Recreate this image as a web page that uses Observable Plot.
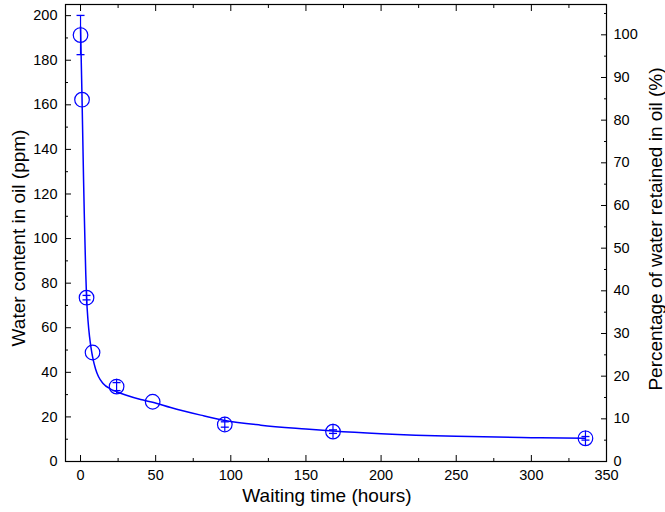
<!DOCTYPE html>
<html><head><meta charset="utf-8">
<script src="https://cdn.jsdelivr.net/npm/d3@7"></script>
<script src="https://cdn.jsdelivr.net/npm/@observablehq/plot@0.6"></script>
<style>
body{margin:0;background:#fff}
svg{font-family:"Liberation Sans",Arial,sans-serif}
</style>
</head><body><div id="chart"></div>
<script>
// measured points
const timeH      = [0, 1, 4, 8, 24, 48, 96, 168, 336];
const waterPpm   = [191.3, 162.3, 73.5, 48.9, 33.6, 26.8, 16.6, 13.4, 10.4];
const errPpm     = [8.8, 0, 1.0, 0, 1.8, 0, 1.2, 0.8, 0.8];   // error-bar caps
const whiskerPpm = [8.8, 0, 3.3, 0, 3.3, 0, 3.3, 3.3, 3.3];   // visible whisker extent
// fitted curve
const curveX = [0, 0.5, 1, 1.5, 2, 2.5, 3, 3.5, 4, 5, 6, 7, 8, 10, 12, 15, 20, 24, 30, 40, 48, 60, 80, 96, 120, 150, 168, 200, 250, 300, 336];
const curveY = [195, 179, 163, 145, 127, 111, 97, 84, 74, 63, 56, 51, 47, 41.5, 38, 35, 32.5, 31.3, 29.8, 27.8, 26.6, 24.2, 20.8, 18.4, 16.3, 14.6, 13.7, 12.5, 11.3, 10.7, 10.4];
// axes
const xMajor = [0, 50, 100, 150, 200, 250, 300, 350];
const xMinor = [25, 75, 125, 175, 225, 275, 325];
const yMajor = [0, 20, 40, 60, 80, 100, 120, 140, 160, 180, 200];
const yMinor = [10, 30, 50, 70, 90, 110, 130, 150, 170, 190];
const pctMajor = [0, 10, 20, 30, 40, 50, 60, 70, 80, 90, 100];
const pctMinor = [5, 15, 25, 35, 45, 55, 65, 75, 85, 95, 105];
const ppmAt100 = 191.4; // ppm that corresponds to 100 %
const xTitle = "Waiting time (hours)";
const yTitle = "Water content in oil (ppm)";
const y2Title = "Percentage of water retained in oil (%)";

const points = timeH.map((t, i) => ({t, w: waterPpm[i], e: errPpm[i], k: whiskerPpm[i]}));
const errPts = points.filter(d => d.e > 0);
const curve = curveX.map((t, i) => ({t, w: curveY[i]}));
const toPpm = p => p * ppmAt100 / 100;
const blue = "#0000ff";
const capSymbol = {draw(ctx, size) { const r = Math.sqrt(size / Math.PI); ctx.moveTo(-r, 0); ctx.lineTo(r, 0); }};
const titleStyle = {fontSize: 19, textAnchor: "middle", lineAnchor: "middle", text: d => d};

const chart = Plot.plot({
  width: 665, height: 512,
  marginLeft: 65, marginRight: 59, marginTop: 4, marginBottom: 51,
  x: {domain: [-10, 350]},
  y: {domain: [0, 205]},
  style: {fontFamily: "'Liberation Sans', Arial, sans-serif", fontSize: "14.5px", color: "#000", background: "#fff"},
  marks: [
    // left axis
    Plot.axisY(yMajor, {anchor: "left", tickSize: 0, tickPadding: 8, label: null}),
    Plot.axisY(yMajor, {anchor: "left", tickSize: 6, dx: 6, fill: "none", label: null}),
    Plot.axisY(yMinor, {anchor: "left", tickSize: 3, dx: 3, fill: "none", label: null}),
    // right axis (percent)
    Plot.axisY(pctMajor.map(toPpm), {anchor: "right", tickSize: 0, tickPadding: 7, label: null, tickFormat: d => String(Math.round(d / ppmAt100 * 100))}),
    Plot.axisY(pctMajor.map(toPpm), {anchor: "right", tickSize: 6, dx: -6, fill: "none", label: null}),
    Plot.axisY(pctMinor.map(toPpm), {anchor: "right", tickSize: 3, dx: -3, fill: "none", label: null}),
    // bottom axis
    Plot.axisX(xMajor, {anchor: "bottom", tickSize: 0, tickPadding: 8, label: null}),
    Plot.axisX(xMajor, {anchor: "bottom", tickSize: 6, dy: -6, fill: "none", label: null}),
    Plot.axisX(xMinor, {anchor: "bottom", tickSize: 3, dy: -3, fill: "none", label: null}),
    // top axis (ticks only)
    Plot.axisX(xMajor, {anchor: "top", tickSize: 6, dy: 6, fill: "none", label: null}),
    Plot.axisX(xMinor, {anchor: "top", tickSize: 3, dy: 3, fill: "none", label: null}),
    Plot.frame({stroke: "#000", strokeWidth: 1.2}),
    // titles
    Plot.text([xTitle], {frameAnchor: "bottom", dy: 34, dx: -9, ...titleStyle}),
    Plot.text([yTitle], {frameAnchor: "left", dx: -47, dy: 5, rotate: -90, ...titleStyle}),
    Plot.text([y2Title], {frameAnchor: "right", dx: 49, dy: -4, rotate: -90, ...titleStyle}),
    // fitted curve
    Plot.line(curve, {x: "t", y: "w", stroke: blue, strokeWidth: 1.5, curve: "monotone-x"}),
    // error bars
    Plot.ruleX(errPts, {x: "t", y1: d => d.w - d.k, y2: d => d.w + d.k, stroke: blue, strokeWidth: 1.2}),
    Plot.dot(errPts, {x: "t", y: d => d.w - d.e, symbol: capSymbol, r: 4, stroke: blue, fill: "none", strokeWidth: 1.3}),
    Plot.dot(errPts, {x: "t", y: d => d.w + d.e, symbol: capSymbol, r: 4, stroke: blue, fill: "none", strokeWidth: 1.3}),
    // data points
    Plot.dot(points, {x: "t", y: "w", r: 7.3, stroke: blue, fill: "none", strokeWidth: 1.2})
  ]
});
document.getElementById("chart").appendChild(chart);
</script>
</body></html>
